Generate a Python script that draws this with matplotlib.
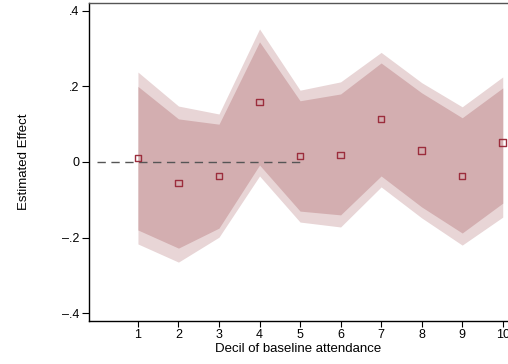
import matplotlib
matplotlib.use("Agg")
import matplotlib.pyplot as plt
import numpy as np

plt.rcParams['font.family'] = ['Liberation Sans', 'DejaVu Sans']

deciles = np.arange(1, 11)
estimate = [0.011, -0.056, -0.037, 0.159, 0.016, 0.019, 0.114, 0.030, -0.037, 0.051]
ci95_lo = [-0.180, -0.228, -0.175, -0.008, -0.130, -0.140, -0.037, -0.119, -0.188, -0.109]
ci95_hi = [0.200, 0.114, 0.100, 0.318, 0.162, 0.180, 0.262, 0.183, 0.117, 0.196]
ci99_lo = [-0.217, -0.265, -0.199, -0.037, -0.159, -0.172, -0.066, -0.148, -0.220, -0.146]
ci99_hi = [0.238, 0.148, 0.127, 0.352, 0.190, 0.212, 0.290, 0.210, 0.146, 0.225]
yticks = [-0.4, -0.2, 0, 0.2, 0.4]
ytick_labels = ["\u2013.4", "\u2013.2", "0", ".2", ".4"]

fig = plt.figure(figsize=(5.08, 3.64), dpi=100)
ax = fig.add_axes([0.175, 0.118, 0.825, 0.874])

ax.fill_between(deciles, ci99_lo, ci99_hi, color="#e8d5d6", linewidth=0, zorder=1)
ax.fill_between(deciles, ci95_lo, ci95_hi, color="#d3aeb0", linewidth=0, zorder=2)
ax.plot([0, 5], [0, 0], color="#555555", linestyle=(0, (6, 4)), linewidth=1.0, zorder=3)
ax.scatter(deciles, estimate, marker="s", s=22, facecolors="none",
           edgecolors="#9b2d3c", linewidths=1.0, zorder=4)

ax.set_xlim(-0.21, 10.13)
ax.set_ylim(-0.421, 0.421)
ax.set_xticks(deciles)
ax.set_yticks(yticks)
ax.set_yticklabels(ytick_labels)
ax.tick_params(axis="both", labelsize=9, direction="out", length=4, width=0.8, pad=2)
ax.tick_params(axis="y", length=5)

ax.set_xlabel("Decil of baseline attendance", fontsize=9.5, labelpad=1)
ax.set_ylabel("Estimated Effect", fontsize=9.5, labelpad=23)

ax.spines["right"].set_visible(False)
ax.spines["top"].set_color("#555555")
for s in ["left", "bottom", "top"]:
    ax.spines[s].set_linewidth(1.0)

fig.savefig("out.png", dpi=100)
